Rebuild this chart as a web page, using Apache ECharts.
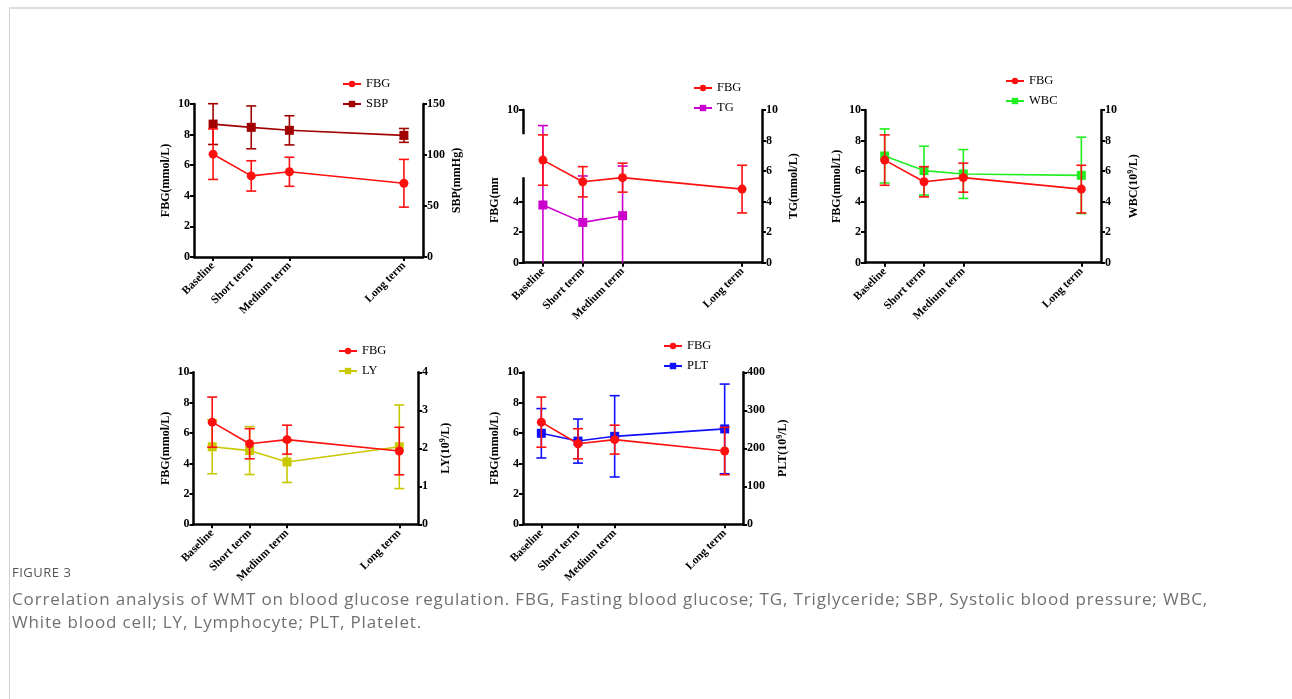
<!DOCTYPE html>
<html><head><meta charset="utf-8">
<script src="https://cdn.jsdelivr.net/npm/echarts@6/dist/echarts.min.js"></script>
<style>
html,body{margin:0;padding:0;background:#fff;}
#wrap{position:relative;width:1292px;height:699px;overflow:hidden;}
#frame{position:absolute;left:9px;top:7px;width:1300px;height:720px;border-left:1px solid #cfcfcf;border-top:2px solid #dedede;}
#chart{position:absolute;left:0;top:0;width:1292px;height:699px;}
#figlabel{position:absolute;left:12px;top:563px;font-family:'Open Sans';font-size:13px;color:#555;letter-spacing:0.5px;}
#caption{position:absolute;left:12px;top:587px;font-family:'Open Sans';font-size:17px;line-height:23px;color:#707070;width:1270px;letter-spacing:0.85px;white-space:nowrap;}
</style></head>
<body>
<div id="wrap">
<div id="frame"></div>
<div id="chart"></div>
<div id="figlabel">FIGURE 3</div>
<div id="caption">Correlation analysis of WMT on blood glucose regulation. FBG, Fasting blood glucose; TG, Triglyceride; SBP, Systolic blood pressure; WBC,<br>White blood cell; LY, Lymphocyte; PLT, Platelet.</div>
</div>
<script>
// ---- data ----
const timeLabels = ['Baseline', 'Short term', 'Medium term', 'Long term'];
const timeSlots = [0, 1, 2, 5];
const fbgMean = [6.72, 5.30, 5.57, 4.82];
const fbgSD   = [1.65, 0.99, 0.95, 1.56];
const sbpMean = [130.3, 127.1, 124.2, 119.2];
const sbpSD   = [20, 21, 14.3, 6.8];
const tgMean  = [3.78, 2.64, 3.08, null];
const tgSD    = [5.2, 3.04, 3.25, null];
const wbcMean = [6.99, 6.03, 5.81, 5.72];
const wbcSD   = [1.77, 1.6, 1.6, 2.5];
const lyMean  = [2.04, 1.94, 1.64, 2.04];
const lySD    = [0.71, 0.63, 0.54, 1.1];
const pltMean = [239.5, 219, 231.5, 251];
const pltSD   = [65, 58, 107, 118];
const fbgAxisTicks = [0, 10, 2];
const sbpAxisTicks = [0, 150, 50];
const tgAxisTicks  = [0, 10, 2];
const wbcAxisTicks = [0, 10, 2];
const lyAxisTicks  = [0, 4, 1];
const pltAxisTicks = [0, 400, 100];

// ---- layout / style ----
const FONT = 'Liberation Serif';
const panels = [
  {grid:{left:194, top:104, width:229, height:153}, name:'SBP', mean:sbpMean, sd:sbpSD, ticks:sbpAxisTicks, color:'#a00000', axisName:'SBP(mmHg)', nameGap:28, legend:{left:342, top:77}},
  {grid:{left:523, top:110, width:239, height:152.7}, name:'TG', mean:tgMean, sd:tgSD, ticks:tgAxisTicks, color:'#cc00cc', axisName:'TG(mmol/L)', nameGap:26, legend:{left:693, top:81}},
  {grid:{left:865, top:110, width:236, height:152.7}, name:'WBC', mean:wbcMean, sd:wbcSD, ticks:wbcAxisTicks, color:'#22ee22', axisName:'WBC(10{sup|9}/L)', nameGap:26, legend:{left:1005, top:74}},
  {grid:{left:193.5, top:372.3, width:224.5, height:152}, name:'LY', mean:lyMean, sd:lySD, ticks:lyAxisTicks, color:'#c8c800', axisName:'LY(10{sup|9}/L)', nameGap:21, legend:{left:338, top:344}},
  {grid:{left:523, top:372.3, width:220, height:152}, name:'PLT', mean:pltMean, sd:pltSD, ticks:pltAxisTicks, color:'#1010ff', axisName:'PLT(10{sup|9}/L)', nameGap:33, legend:{left:663, top:339}}
];
const FBG_COLOR = '#ff1010';

function pairs(mean) {
  const out = [];
  mean.forEach((m, i) => { if (m != null) out.push([timeSlots[i], m]); });
  return out;
}
function errData(mean, sd) {
  const out = [];
  mean.forEach((m, i) => { if (m != null) out.push([timeSlots[i], m - sd[i], m + sd[i]]); });
  return out;
}
function errSeries(id, xi, yi, mean, sd, color, z) {
  return {
    type: 'custom', id: id, xAxisIndex: xi, yAxisIndex: yi, z: z, silent: true,
    data: errData(mean, sd), encode: {x: 0, y: [1, 2]},
    renderItem: function (params, api) {
      const cs = params.coordSys;
      const x = api.value(0), lo = api.value(1), hi = api.value(2);
      const t = api.coord([x, hi]), b = api.coord([x, lo]);
      const yT = Math.max(t[1], cs.y), yB = Math.min(b[1], cs.y + cs.height);
      const cx = t[0], hw = 5;
      const st = {stroke: color, lineWidth: 1.6};
      const ch = [{type: 'line', shape: {x1: cx, y1: yT, x2: cx, y2: yB}, style: st}];
      if (t[1] >= cs.y - 0.5) ch.push({type: 'line', shape: {x1: cx - hw, y1: t[1], x2: cx + hw, y2: t[1]}, style: st});
      if (b[1] <= cs.y + cs.height + 0.5) ch.push({type: 'line', shape: {x1: cx - hw, y1: b[1], x2: cx + hw, y2: b[1]}, style: st});
      return {type: 'group', children: ch};
    }
  };
}

const grids = [], xAxes = [], yAxes = [], series = [], legends = [];
const axisLineStyle = {color: '#000', width: 2.5};
panels.forEach((p, i) => {
  grids.push(Object.assign({outerBoundsMode: 'none', containLabel: false}, p.grid));
  xAxes.push({
    type: 'value', gridIndex: i, min: -0.5, max: 5.5,
    axisLine: {show: true, onZero: false, lineStyle: axisLineStyle},
    axisTick: {show: true, customValues: timeSlots, length: 4, lineStyle: {color: '#000', width: 2}},
    axisLabel: {customValues: timeSlots, formatter: v => timeLabels[timeSlots.indexOf(v)], rotate: 45,
      fontFamily: FONT, fontWeight: 'bold', fontSize: 11.5, color: '#000', margin: 7},
    splitLine: {show: false}
  });
  yAxes.push({
    type: 'value', gridIndex: i, position: 'left', min: fbgAxisTicks[0], max: fbgAxisTicks[1], interval: fbgAxisTicks[2],
    name: 'FBG(mmol/L)', nameLocation: 'middle', nameGap: 22, nameRotate: 90,
    nameTextStyle: {fontFamily: FONT, fontWeight: 'bold', fontSize: 12, color: '#000'},
    axisLine: {show: true, onZero: false, lineStyle: axisLineStyle},
    axisTick: {show: true, length: 4, lineStyle: {color: '#000', width: 2}},
    axisLabel: {fontFamily: FONT, fontWeight: 'bold', fontSize: 12, color: '#000', margin: 4},
    splitLine: {show: false}
  });
  yAxes.push({
    type: 'value', gridIndex: i, position: 'right', min: p.ticks[0], max: p.ticks[1], interval: p.ticks[2],
    name: p.axisName, nameLocation: 'middle', nameGap: p.nameGap, nameRotate: 90,
    nameTextStyle: {fontFamily: FONT, fontWeight: 'bold', fontSize: 12, color: '#000',
      rich: {sup: {fontFamily: FONT, fontWeight: 'bold', fontSize: 8, color: '#000', verticalAlign: 'top', padding: [0, 0, 6, 0]}}},
    axisLine: {show: true, onZero: false, lineStyle: axisLineStyle},
    axisTick: {show: true, length: 4, lineStyle: {color: '#000', width: 2}},
    axisLabel: {fontFamily: FONT, fontWeight: 'bold', fontSize: 12, color: '#000', margin: 4},
    splitLine: {show: false}
  });
  series.push(errSeries('err2_' + i, i, 2 * i + 1, p.mean, p.sd, p.color, 2));
  series.push({type: 'line', name: p.name, xAxisIndex: i, yAxisIndex: 2 * i + 1, z: 3, data: pairs(p.mean),
    symbol: 'rect', symbolSize: 9, itemStyle: {color: p.color}, lineStyle: {color: p.color, width: 1.6}, silent: true});
  series.push(errSeries('err1_' + i, i, 2 * i, fbgMean, fbgSD, FBG_COLOR, 4));
  series.push({type: 'line', name: 'FBG', xAxisIndex: i, yAxisIndex: 2 * i, z: 5, data: pairs(fbgMean),
    symbol: 'circle', symbolSize: 9, itemStyle: {color: FBG_COLOR}, lineStyle: {color: FBG_COLOR, width: 1.6}, silent: true});
  legends.push({orient: 'vertical', left: p.legend.left, top: p.legend.top, data: ['FBG', p.name],
    itemWidth: 18, itemHeight: 8, itemGap: 6, selectedMode: false, padding: 0,
    textStyle: {fontFamily: FONT, fontSize: 12.5, color: '#000', lineHeight: 14}});
});

const chart = echarts.init(document.getElementById('chart'), null, {renderer: 'canvas'});
chart.setOption({
  animation: false,
  grid: grids, xAxis: xAxes, yAxis: yAxes, series: series, legend: legends
});
// Panel 2: part of the left axis is covered in the original figure
const yTopPx = chart.convertToPixel({yAxisIndex: 2}, 8.42);
const yBotPx = chart.convertToPixel({yAxisIndex: 2}, 5.6);
const g2 = panels[1].grid;
chart.setOption({
  graphic: [{type: 'rect', z: 100, shape: {x: g2.left - 45, y: yTopPx, width: 47, height: yBotPx - yTopPx},
    style: {fill: '#fff'}}]
});
</script>
</body></html>
